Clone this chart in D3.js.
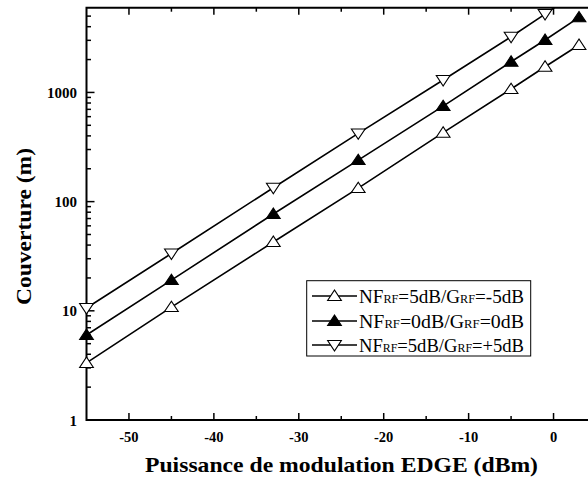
<!DOCTYPE html>
<html><head><meta charset="utf-8">
<script src="https://cdn.jsdelivr.net/npm/d3@7"></script>
<style>body{margin:0;background:#fff}svg{display:block}
text{font-family:"Liberation Serif","Tinos","DejaVu Serif","Times New Roman",serif}</style>
</head><body>
<script>
const xValues = [-55, -45, -33, -23, -13, -5, -1, 3];
const seriesA = [3.33, 10.8, 42.7, 133, 428, 1074, 1719, 2717];
const seriesB = [6.0, 19.1, 77, 240, 750, 1910, 3020, 4870];
const seriesC = [10.6, 33.5, 134, 422, 1300, 3236, 5220, 8600];
const seriesNames = [["5dB","-5dB"],["0dB","0dB"],["5dB","+5dB"]];
const xTicks = [-50, -40, -30, -20, -10, 0];
const yTicks = [1, 10, 100, 1000];
const xLabel = "Puissance de modulation EDGE (dBm)";
const yLabel = "Couverture (m)";

const W = 588, H = 481;
const L = 86.5, T = 7.7, B = 420, R = 596;
const svg = d3.select("body").append("svg").attr("width", W).attr("height", H);
const x = d3.scaleLinear().domain([-55, 5]).range([L, R]);
const y = d3.scaleLog().domain([1, Math.pow(10, 3.776)]).range([B, T]);

svg.append("defs").append("clipPath").attr("id", "clip")
  .append("rect").attr("x", L).attr("y", T).attr("width", R - L).attr("height", B - T);

const xMinor = d3.range(-55, 6, 5).filter(v => v % 10 !== 0 && v > -55);
const g = svg.append("g").attr("stroke", "#000").attr("stroke-width", 1.5);
xTicks.forEach(v => {
  g.append("line").attr("x1", x(v)).attr("x2", x(v)).attr("y1", B).attr("y2", B - 7);
  g.append("line").attr("x1", x(v)).attr("x2", x(v)).attr("y1", T).attr("y2", T + 7);
});
xMinor.forEach(v => {
  g.append("line").attr("x1", x(v)).attr("x2", x(v)).attr("y1", B).attr("y2", B - 4);
  g.append("line").attr("x1", x(v)).attr("x2", x(v)).attr("y1", T).attr("y2", T + 4);
});
yTicks.forEach(v => {
  g.append("line").attr("x1", L).attr("x2", L + 8).attr("y1", y(v)).attr("y2", y(v));
});
const yMinor = [];
[1, 10, 100, 1000].forEach(d => { for (let k = 2; k <= 9; k++) { if (d * k <= y.domain()[1]) yMinor.push(d * k); } });
yMinor.forEach(v => {
  g.append("line").attr("x1", L).attr("x2", L + 4.5).attr("y1", y(v)).attr("y2", y(v));
});

svg.append("path").attr("d", `M${R},${T}H${L}V${B}H${R}`).attr("fill", "none")
  .attr("stroke", "#000").attr("stroke-width", 2);

svg.append("g").selectAll("text").data(xTicks).join("text")
  .attr("x", d => x(d)).attr("y", 442).attr("text-anchor", "middle")
  .attr("font-weight", "bold").attr("font-size", 14.5).text(d => d);
svg.append("g").selectAll("text").data(yTicks).join("text")
  .attr("x", 77).attr("y", d => y(d) + 5.5).attr("text-anchor", "end")
  .attr("font-weight", "bold").attr("font-size", 15).text(d => d);

svg.append("text").attr("x", 145).attr("y", 472)
  .attr("textLength", 393).attr("lengthAdjust", "spacingAndGlyphs")
  .attr("font-weight", "bold").attr("font-size", 21).text(xLabel);
svg.append("text").attr("transform", `translate(31,305) rotate(-90)`)
  .attr("textLength", 157).attr("lengthAdjust", "spacingAndGlyphs")
  .attr("font-weight", "bold").attr("font-size", 21).text(yLabel);

const up = d3.symbol().type(d3.symbolTriangle).size(62)();
const series = [
  { vals: seriesA, fill: "#fff", rot: 0 },
  { vals: seriesB, fill: "#000", rot: 0 },
  { vals: seriesC, fill: "#fff", rot: 180 }
];
const line = d3.line().x(d => x(d[0])).y(d => y(d[1]));
const plot = svg.append("g").attr("clip-path", "url(#clip)");
series.forEach(s => {
  const pts = xValues.map((xv, i) => [xv, s.vals[i]]);
  plot.append("path").attr("d", line(pts)).attr("fill", "none")
    .attr("stroke", "#000").attr("stroke-width", 1.6);
});
series.forEach(s => {
  const pts = xValues.map((xv, i) => [xv, s.vals[i]]).filter(p => p[1] <= y.domain()[1]);
  svg.append("g").selectAll("path").data(pts).join("path")
    .attr("d", up)
    .attr("transform", d => `translate(${x(d[0])},${y(d[1]) + (s.rot ? -1 : 1)}) rotate(${s.rot}) scale(1.15,1)`)
    .attr("fill", s.fill).attr("stroke", "#000").attr("stroke-width", 1);
});

const lg = svg.append("g");
lg.append("rect").attr("x", 306.7).attr("y", 280.7).attr("width", 224).attr("height", 75.3)
  .attr("fill", "#fff").attr("stroke", "#000").attr("stroke-width", 1);
const rowsY = [296, 321, 345];
series.forEach((s, i) => {
  const yy = rowsY[i];
  lg.append("line").attr("x1", 312).attr("x2", 357).attr("y1", yy).attr("y2", yy)
    .attr("stroke", "#000").attr("stroke-width", 1.6);
  lg.append("path").attr("d", up)
    .attr("transform", `translate(334.5,${yy + (s.rot ? -1 : 1)}) rotate(${s.rot}) scale(1.15,1)`)
    .attr("fill", s.fill).attr("stroke", "#000").attr("stroke-width", 1);
  const t = lg.append("text").attr("x", 359).attr("y", yy + 6.5).attr("font-size", 18)
    .attr("textLength", 165).attr("lengthAdjust", "spacingAndGlyphs");
  t.append("tspan").text("NF");
  t.append("tspan").attr("font-size", 11.5).text("RF");
  t.append("tspan").text("=" + seriesNames[i][0] + "/G");
  t.append("tspan").attr("font-size", 11.5).text("RF");
  t.append("tspan").text("=" + seriesNames[i][1]);
});
</script>
</body></html>
